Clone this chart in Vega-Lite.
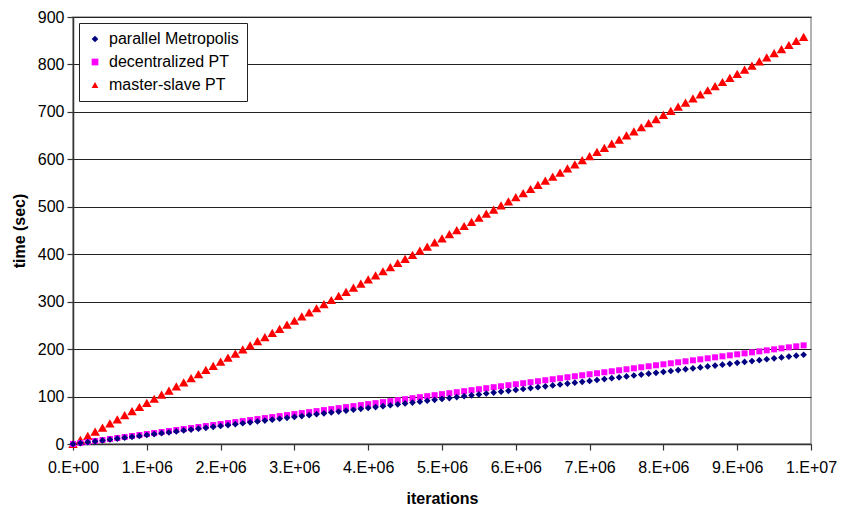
{
  "$schema": "https://vega.github.io/schema/vega-lite/v6.json",
  "autosize": "none",
  "width": 738,
  "height": 427,
  "padding": {"left": 73, "top": 17, "right": 30, "bottom": 64},
  "background": "white",
  "config": {
    "font": "Liberation Sans",
    "view": {"stroke": "#999999", "strokeWidth": 1.5}
  },
  "data": {
    "values": [
      {"i": 0, "pm": 0, "dpt": 0, "ms": 0},
      {"i": 100000, "pm": 1.9, "dpt": 2.1, "ms": 8.7},
      {"i": 200000, "pm": 3.8, "dpt": 4.2, "ms": 17.3},
      {"i": 300000, "pm": 5.7, "dpt": 6.3, "ms": 26.0},
      {"i": 400000, "pm": 7.6, "dpt": 8.4, "ms": 34.7},
      {"i": 500000, "pm": 9.5, "dpt": 10.5, "ms": 43.4},
      {"i": 600000, "pm": 11.4, "dpt": 12.6, "ms": 52.0},
      {"i": 700000, "pm": 13.3, "dpt": 14.7, "ms": 60.7},
      {"i": 800000, "pm": 15.2, "dpt": 16.8, "ms": 69.4},
      {"i": 900000, "pm": 17.1, "dpt": 18.9, "ms": 78.0},
      {"i": 1000000, "pm": 19.0, "dpt": 21.0, "ms": 86.7},
      {"i": 1100000, "pm": 20.9, "dpt": 23.1, "ms": 95.4},
      {"i": 1200000, "pm": 22.8, "dpt": 25.2, "ms": 104.0},
      {"i": 1300000, "pm": 24.7, "dpt": 27.3, "ms": 112.7},
      {"i": 1400000, "pm": 26.6, "dpt": 29.4, "ms": 121.4},
      {"i": 1500000, "pm": 28.5, "dpt": 31.5, "ms": 130.1},
      {"i": 1600000, "pm": 30.4, "dpt": 33.6, "ms": 138.7},
      {"i": 1700000, "pm": 32.3, "dpt": 35.7, "ms": 147.4},
      {"i": 1800000, "pm": 34.2, "dpt": 37.8, "ms": 156.1},
      {"i": 1900000, "pm": 36.1, "dpt": 39.9, "ms": 164.7},
      {"i": 2000000, "pm": 38.0, "dpt": 42.0, "ms": 173.4},
      {"i": 2100000, "pm": 39.9, "dpt": 44.1, "ms": 182.1},
      {"i": 2200000, "pm": 41.8, "dpt": 46.2, "ms": 190.7},
      {"i": 2300000, "pm": 43.7, "dpt": 48.3, "ms": 199.4},
      {"i": 2400000, "pm": 45.6, "dpt": 50.4, "ms": 208.1},
      {"i": 2500000, "pm": 47.5, "dpt": 52.5, "ms": 216.8},
      {"i": 2600000, "pm": 49.4, "dpt": 54.6, "ms": 225.4},
      {"i": 2700000, "pm": 51.3, "dpt": 56.7, "ms": 234.1},
      {"i": 2800000, "pm": 53.2, "dpt": 58.8, "ms": 242.8},
      {"i": 2900000, "pm": 55.1, "dpt": 60.9, "ms": 251.4},
      {"i": 3000000, "pm": 57.0, "dpt": 63.0, "ms": 260.1},
      {"i": 3100000, "pm": 58.9, "dpt": 65.1, "ms": 268.8},
      {"i": 3200000, "pm": 60.8, "dpt": 67.2, "ms": 277.4},
      {"i": 3300000, "pm": 62.7, "dpt": 69.3, "ms": 286.1},
      {"i": 3400000, "pm": 64.6, "dpt": 71.4, "ms": 294.8},
      {"i": 3500000, "pm": 66.5, "dpt": 73.5, "ms": 303.5},
      {"i": 3600000, "pm": 68.4, "dpt": 75.6, "ms": 312.1},
      {"i": 3700000, "pm": 70.3, "dpt": 77.7, "ms": 320.8},
      {"i": 3800000, "pm": 72.2, "dpt": 79.8, "ms": 329.5},
      {"i": 3900000, "pm": 74.1, "dpt": 81.9, "ms": 338.1},
      {"i": 4000000, "pm": 76.0, "dpt": 84.0, "ms": 346.8},
      {"i": 4100000, "pm": 77.9, "dpt": 86.1, "ms": 355.5},
      {"i": 4200000, "pm": 79.8, "dpt": 88.2, "ms": 364.1},
      {"i": 4300000, "pm": 81.7, "dpt": 90.3, "ms": 372.8},
      {"i": 4400000, "pm": 83.6, "dpt": 92.4, "ms": 381.5},
      {"i": 4500000, "pm": 85.5, "dpt": 94.5, "ms": 390.2},
      {"i": 4600000, "pm": 87.4, "dpt": 96.6, "ms": 398.8},
      {"i": 4700000, "pm": 89.3, "dpt": 98.7, "ms": 407.5},
      {"i": 4800000, "pm": 91.2, "dpt": 100.8, "ms": 416.2},
      {"i": 4900000, "pm": 93.1, "dpt": 102.9, "ms": 424.8},
      {"i": 5000000, "pm": 95.0, "dpt": 105.0, "ms": 433.5},
      {"i": 5100000, "pm": 96.9, "dpt": 107.1, "ms": 442.2},
      {"i": 5200000, "pm": 98.8, "dpt": 109.2, "ms": 450.8},
      {"i": 5300000, "pm": 100.7, "dpt": 111.3, "ms": 459.5},
      {"i": 5400000, "pm": 102.6, "dpt": 113.4, "ms": 468.2},
      {"i": 5500000, "pm": 104.5, "dpt": 115.5, "ms": 476.9},
      {"i": 5600000, "pm": 106.4, "dpt": 117.6, "ms": 485.5},
      {"i": 5700000, "pm": 108.3, "dpt": 119.7, "ms": 494.2},
      {"i": 5800000, "pm": 110.2, "dpt": 121.8, "ms": 502.9},
      {"i": 5900000, "pm": 112.1, "dpt": 123.9, "ms": 511.5},
      {"i": 6000000, "pm": 114.0, "dpt": 126.0, "ms": 520.2},
      {"i": 6100000, "pm": 115.9, "dpt": 128.1, "ms": 528.9},
      {"i": 6200000, "pm": 117.8, "dpt": 130.2, "ms": 537.5},
      {"i": 6300000, "pm": 119.7, "dpt": 132.3, "ms": 546.2},
      {"i": 6400000, "pm": 121.6, "dpt": 134.4, "ms": 554.9},
      {"i": 6500000, "pm": 123.5, "dpt": 136.5, "ms": 563.6},
      {"i": 6600000, "pm": 125.4, "dpt": 138.6, "ms": 572.2},
      {"i": 6700000, "pm": 127.3, "dpt": 140.7, "ms": 580.9},
      {"i": 6800000, "pm": 129.2, "dpt": 142.8, "ms": 589.6},
      {"i": 6900000, "pm": 131.1, "dpt": 144.9, "ms": 598.2},
      {"i": 7000000, "pm": 133.0, "dpt": 147.0, "ms": 606.9},
      {"i": 7100000, "pm": 134.9, "dpt": 149.1, "ms": 615.6},
      {"i": 7200000, "pm": 136.8, "dpt": 151.2, "ms": 624.2},
      {"i": 7300000, "pm": 138.7, "dpt": 153.3, "ms": 632.9},
      {"i": 7400000, "pm": 140.6, "dpt": 155.4, "ms": 641.6},
      {"i": 7500000, "pm": 142.5, "dpt": 157.5, "ms": 650.3},
      {"i": 7600000, "pm": 144.4, "dpt": 159.6, "ms": 658.9},
      {"i": 7700000, "pm": 146.3, "dpt": 161.7, "ms": 667.6},
      {"i": 7800000, "pm": 148.2, "dpt": 163.8, "ms": 676.3},
      {"i": 7900000, "pm": 150.1, "dpt": 165.9, "ms": 684.9},
      {"i": 8000000, "pm": 152.0, "dpt": 168.0, "ms": 693.6},
      {"i": 8100000, "pm": 153.9, "dpt": 170.1, "ms": 702.3},
      {"i": 8200000, "pm": 155.8, "dpt": 172.2, "ms": 710.9},
      {"i": 8300000, "pm": 157.7, "dpt": 174.3, "ms": 719.6},
      {"i": 8400000, "pm": 159.6, "dpt": 176.4, "ms": 728.3},
      {"i": 8500000, "pm": 161.5, "dpt": 178.5, "ms": 737.0},
      {"i": 8600000, "pm": 163.4, "dpt": 180.6, "ms": 745.6},
      {"i": 8700000, "pm": 165.3, "dpt": 182.7, "ms": 754.3},
      {"i": 8800000, "pm": 167.2, "dpt": 184.8, "ms": 763.0},
      {"i": 8900000, "pm": 169.1, "dpt": 186.9, "ms": 771.6},
      {"i": 9000000, "pm": 171.0, "dpt": 189.0, "ms": 780.3},
      {"i": 9100000, "pm": 172.9, "dpt": 191.1, "ms": 789.0},
      {"i": 9200000, "pm": 174.8, "dpt": 193.2, "ms": 797.6},
      {"i": 9300000, "pm": 176.7, "dpt": 195.3, "ms": 806.3},
      {"i": 9400000, "pm": 178.6, "dpt": 197.4, "ms": 815.0},
      {"i": 9500000, "pm": 180.5, "dpt": 199.5, "ms": 823.7},
      {"i": 9600000, "pm": 182.4, "dpt": 201.6, "ms": 832.3},
      {"i": 9700000, "pm": 184.3, "dpt": 203.7, "ms": 841.0},
      {"i": 9800000, "pm": 186.2, "dpt": 205.8, "ms": 849.7},
      {"i": 9900000, "pm": 188.1, "dpt": 207.9, "ms": 858.3}
    ]
  },
  "transform": [
    {"fold": ["pm", "dpt", "ms"], "as": ["key", "time"]},
    {"lookup": "key", "from": {"data": {"values": [
      {"key": "pm", "series": "parallel Metropolis"},
      {"key": "dpt", "series": "decentralized PT"},
      {"key": "ms", "series": "master-slave PT"}
    ]}, "key": "key", "fields": ["series"]}}
  ],
  "encoding": {
    "x": {
      "field": "i", "type": "quantitative",
      "scale": {"domain": [0, 10000000], "nice": false},
      "axis": {
        "title": "iterations",
        "titleFontSize": 16, "titleFontWeight": "bold", "titleColor": "black", "titlePadding": 15,
        "values": [0, 1000000, 2000000, 3000000, 4000000, 5000000, 6000000, 7000000, 8000000, 9000000, 10000000],
        "labelExpr": "datum.value == 0 ? '0.E+00' : (datum.value >= 10000000 ? '1.E+07' : format(datum.value / 1000000, 'd') + '.E+06')",
        "labelFontSize": 16, "labelColor": "black", "labelPadding": 9, "labelFlush": false,
        "grid": false, "domainColor": "#333333", "domainWidth": 1.5,
        "tickColor": "#333333", "tickSize": 6, "tickWidth": 1.2
      }
    },
    "y": {
      "field": "time", "type": "quantitative",
      "scale": {"domain": [0, 900], "nice": false},
      "axis": {
        "title": "time (sec)",
        "titleFontSize": 16, "titleFontWeight": "bold", "titleColor": "black", "titlePadding": 10,
        "values": [0, 100, 200, 300, 400, 500, 600, 700, 800, 900],
        "labelFontSize": 16, "labelColor": "black", "labelPadding": 3,
        "grid": true, "gridColor": "#222222", "gridWidth": 1,
        "domainColor": "#333333", "domainWidth": 1.5,
        "tickColor": "#333333", "tickSize": 6, "tickWidth": 1.2
      }
    },
    "color": {
      "field": "series", "type": "nominal",
      "scale": {"domain": ["parallel Metropolis", "decentralized PT", "master-slave PT"], "range": ["#000080", "#FF00FF", "#FF0000"]},
      "legend": {
        "title": null, "orient": "none", "legendX": 6, "legendY": 6,
        "fillColor": "white", "strokeColor": "#222222", "padding": 8,
        "labelFontSize": 16, "labelColor": "black", "symbolSize": 45, "rowPadding": 7, "labelOffset": 6
      }
    },
    "shape": {
      "field": "series", "type": "nominal",
      "scale": {"domain": ["parallel Metropolis", "decentralized PT", "master-slave PT"], "range": ["diamond", "square", "triangle-up"]}
    }
  },
  "layer": [
    {"transform": [{"filter": "datum.key == 'ms'"}], "mark": {"type": "point", "filled": true, "opacity": 1, "size": 90}},
    {"transform": [{"filter": "datum.key == 'dpt'"}], "mark": {"type": "point", "filled": true, "opacity": 1, "size": 36}},
    {"transform": [{"filter": "datum.key == 'pm'"}], "mark": {"type": "point", "filled": true, "opacity": 1, "size": 45}}
  ]
}
